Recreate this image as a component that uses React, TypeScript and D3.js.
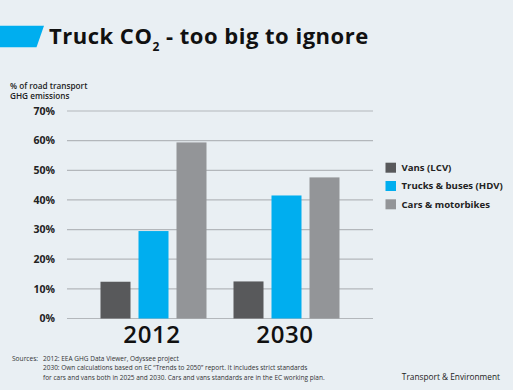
import React from "react";
import * as d3 from "d3";

const years = ["2012", "2030"];
const seriesNames = ["Vans (LCV)", "Trucks & buses (HDV)", "Cars & motorbikes"];
const seriesColors = ["#58595b", "#00aeef", "#939598"];
const vans = [12.4, 12.5];
const trucks = [29.5, 41.5];
const cars = [59.4, 47.6];
const yTicks = [0, 10, 20, 30, 40, 50, 60, 70];
const sourceLines = [
  "2012: EEA GHG Data Viewer, Odyssee project",
  "2030: Own calculations based on EC \u201CTrends to 2050\u201D report. It includes strict standards",
  "for cars and vans both in 2025 and 2030. Cars and vans standards are in the EC working plan.",
];

const W = 513;
const H = 390;
const FONT = "'Open Sans', 'Noto Sans', sans-serif";

export default function App() {
  const values = [vans, trucks, cars];
  const y = d3.scaleLinear().domain([0, 70]).range([318.5, 111]);
  const x0 = d3.scaleBand<string>().domain(years).range([100.5, 339.5]).paddingInner(27 / 133);
  const x1 = d3.scaleBand<string>().domain(seriesNames).range([0, x0.bandwidth()]).paddingInner(8 / 38);

  return (
    <div style={{ position: "fixed", left: 0, top: 0, width: W, height: H }}>
      <svg width={W} height={H} style={{ display: "block", fontFamily: FONT }}>
        <rect x={0} y={0} width={W} height={H} fill="#e9eff3" />
        {/* title */}
        <path d="M0,25.7 L44,25.7 L36.5,47.3 L0,47.3 Z" fill="#00aeef" />
        <text x={49} y={43.5} fontSize={22} fontWeight={700} fill="#111" letterSpacing={0.5}>
          Truck CO
          <tspan fontSize={12} dy={7.5}>2</tspan>
          <tspan dy={-7.5}> - too big to ignore</tspan>
        </text>
        {/* y axis title */}
        <text x={10} y={88.5} fontSize={8.2} fontWeight={600} fill="#222">% of road transport</text>
        <text x={10} y={99} fontSize={8.2} fontWeight={600} fill="#222">GHG emissions</text>
        {/* grid */}
        {yTicks.map((t) => (
          <g key={t}>
            <line x1={67} x2={373} y1={y(t)} y2={y(t)} stroke="#b3b7bb" strokeWidth={1.2} />
            <text x={55} y={y(t)} dy="0.35em" textAnchor="end" fontSize={10.5} fontWeight={700} fill="#222">
              {t}%
            </text>
          </g>
        ))}
        {/* bars */}
        {years.map((yr, i) => (
          <g key={yr} transform={`translate(${x0(yr)},0)`}>
            {seriesNames.map((s, j) => (
              <rect
                key={s}
                x={x1(s)}
                y={y(values[j][i])}
                width={x1.bandwidth()}
                height={y(0) - y(values[j][i])}
                fill={seriesColors[j]}
              />
            ))}
          </g>
        ))}
        {/* year labels */}
        {years.map((yr) => (
          <text
            key={yr}
            x={(x0(yr) as number) + x0.bandwidth() / 2 - 1.5}
            y={343.3}
            textAnchor="middle"
            fontSize={24}
            fontWeight={600}
            fill="#111"
            letterSpacing={0.6}
          >
            {yr}
          </text>
        ))}
        {/* legend */}
        {seriesNames.map((s, j) => (
          <g key={s} transform={`translate(385.5,${162.7 + j * 18.3})`}>
            <rect x={0} y={0} width={10.5} height={10} fill={seriesColors[j]} />
            <text x={16} y={5} dy="0.35em" fontSize={9.6} fontWeight={700} fill="#222">
              {s}
            </text>
          </g>
        ))}
        {/* sources */}
        <text x={12} y={360.5} fontSize={6.6} fill="#333">Sources:</text>
        {sourceLines.map((l, i) => (
          <text key={i} x={43} y={360.5 + i * 9.5} fontSize={6.5} fill="#333">
            {l}
          </text>
        ))}
        <text x={500} y={379.5} textAnchor="end" fontSize={8.3} fill="#222">
          Transport &amp; Environment
        </text>
      </svg>
    </div>
  );
}
